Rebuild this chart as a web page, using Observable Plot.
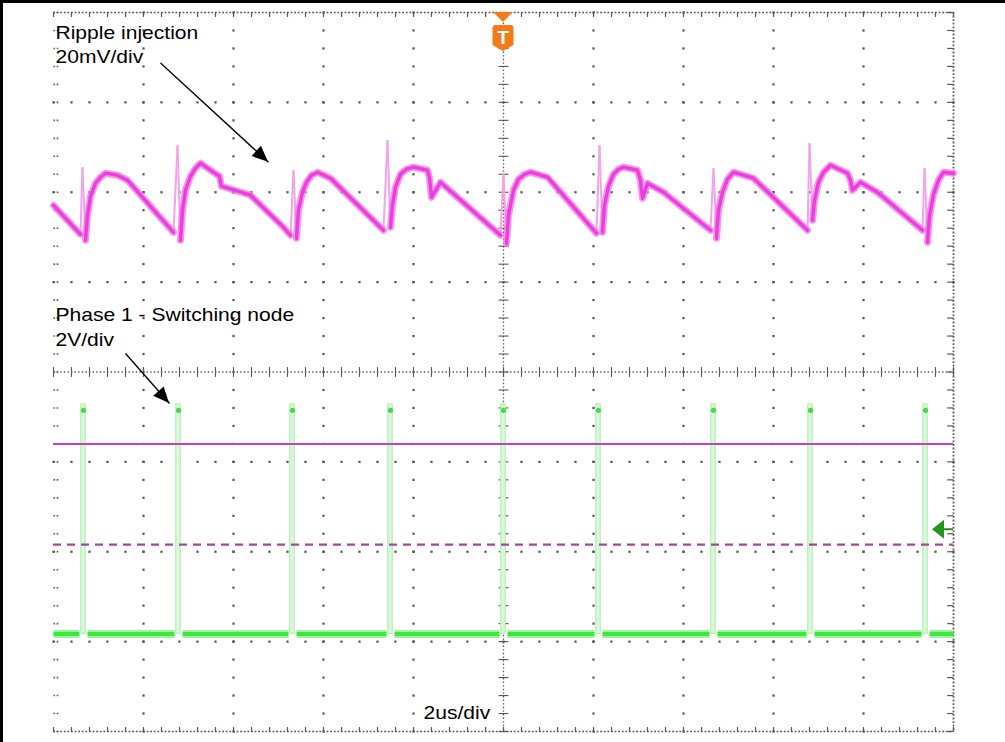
<!DOCTYPE html>
<html>
<head>
<meta charset="utf-8">
<script src="https://cdn.jsdelivr.net/npm/d3@7"></script>
<script src="https://cdn.jsdelivr.net/npm/@observablehq/plot@0.6"></script>
<style>
  html, body { margin: 0; padding: 0; background: #fff; }
  #scope { position: relative; width: 1005px; height: 742px; }
  #scope::before { content: ""; position: absolute; left: 0; top: 0; right: 0; bottom: 0;
    border-top: 3px solid #000; border-left: 3px solid #000; pointer-events: none; z-index: 2; }
  #scope svg { display: block; }
</style>
</head>
<body>
<div id="scope"></div>
<script>
// Horizontal axis: time in µs (2 µs/div, trigger at 0). Vertical axis: screen divisions (8 div tall).

// Ripple injection trace (20 mV/div), sample times and levels
const rippleTime = [
  -10.0, -9.40,
  -9.356, -9.289, -9.244, -9.178, -9.067, -8.956, -8.844, -8.578, -8.356, -7.333,
  -7.244, -7.178, -7.133, -7.067, -6.956, -6.844, -6.733, -6.444, -6.311, -6.267, -5.622, -4.889, -4.733,
  -4.667, -4.60, -4.556, -4.467, -4.378, -4.267, -4.133, -3.844, -2.667,
  -2.578, -2.511, -2.467, -2.40, -2.289, -2.156, -2.0, -1.689, -1.644, -1.60, -1.40, -0.067,
  0.0, 0.067, 0.111, 0.222, 0.333, 0.467, 0.60, 0.978, 2.067,
  2.133, 2.20, 2.244, 2.333, 2.444, 2.556, 2.667, 2.978, 3.044, 3.089, 3.20, 3.556, 4.60,
  4.667, 4.733, 4.778, 4.867, 4.978, 5.111, 5.556, 6.756,
  6.80, 6.867, 6.911, 7.0, 7.111, 7.267, 7.644, 7.711, 7.756, 7.933, 8.311, 9.311,
  9.356, 9.422, 9.467, 9.556, 9.667, 9.778, 10.0
];
const rippleLevel = [
  1.855, 1.532,
  2.279, 1.465, 1.744, 1.955, 2.100, 2.167, 2.212, 2.190, 2.134, 1.554,
  2.523, 1.465, 1.800, 2.022, 2.178, 2.267, 2.323, 2.222, 2.178, 2.067, 1.967, 1.610, 1.521,
  2.245, 1.488, 1.800, 2.000, 2.111, 2.190, 2.222, 2.156, 1.577,
  2.579, 1.610, 1.855, 2.056, 2.201, 2.256, 2.279, 2.245, 2.156, 1.944, 2.111, 1.521,
  2.212, 1.432, 1.744, 2.022, 2.145, 2.200, 2.223, 2.167, 1.543,
  2.523, 1.554, 1.855, 2.067, 2.201, 2.256, 2.279, 2.245, 2.134, 1.933, 2.100, 2.000, 1.577,
  2.267, 1.488, 1.800, 2.000, 2.145, 2.223, 2.156, 1.577,
  2.546, 1.688, 1.911, 2.111, 2.223, 2.301, 2.212, 2.134, 2.022, 2.111, 2.000, 1.577,
  2.267, 1.443, 1.733, 1.978, 2.134, 2.223, 2.212
];

// Phase 1 switching node (2 V/div): pulse times and the two levels
const pulseTimes = [-9.333, -7.222, -4.689, -2.511, 0.0, 2.111, 4.667, 6.822, 9.378];
const switchLow = -2.914;
const switchHigh = -0.36;

// Cursor levels, channel reference marker, trigger position
const cursorSolid = -0.80;
const cursorDashed = -1.92;
const channelRef = -1.755;
const triggerTime = 0;

// Annotation texts and their anchors
const labelText = ["Ripple injection", "20mV/div", "Phase 1 - Switching node", "2V/div", "2us/div"];
const labelTime = [-9.956, -9.956, -9.956, -9.956, -1.778];
const labelLevel = [3.769, 3.502, 0.627, 0.359, -3.796];

// Pointer arrows: start and tip
const arrowFrom = [[-7.622, 3.437], [-8.40, 0.206]];
const arrowTo = [[-5.222, 2.334], [-7.422, -0.351]];

// ---- derived tables ----
const labels = labelText.map((text, i) => ({text, t: labelTime[i], v: labelLevel[i]}));
const arrows = arrowFrom.map((a, i) => ({x1: a[0], y1: a[1], x2: arrowTo[i][0], y2: arrowTo[i][1]}));

// The ripple trace is split at its fast edges: slow stretches are drawn as a wide
// noisy band, the fast spikes as a faint thin line (the scope paints them lightly).
const FAST = 9; // div per µs
const rippleFast = [];
const groups = [[]];
for (let i = 0; i < rippleTime.length; i++) {
  groups[groups.length - 1].push({t: rippleTime[i], v: rippleLevel[i]});
  if (i < rippleTime.length - 1) {
    const rate = Math.abs(rippleLevel[i + 1] - rippleLevel[i]) / (rippleTime[i + 1] - rippleTime[i]);
    if (rate > FAST) {
      rippleFast.push({x1: rippleTime[i], y1: rippleLevel[i], x2: rippleTime[i + 1], y2: rippleLevel[i + 1]});
      groups.push([]);
    }
  }
}
const rippleSlow = groups
  .filter(g => g.length > 1)
  .flatMap((g, k) => g.map(p => ({...p, g: k})));

// low level drawn as segments interrupted by each pulse
const edges = [-10, ...pulseTimes, 10];
const baseSegs = [];
for (let i = 0; i < edges.length - 1; i++) {
  const a = i === 0 ? edges[i] : edges[i] + 0.09;
  const b = i === edges.length - 2 ? edges[i + 1] : edges[i + 1] - 0.09;
  if (b > a) baseSegs.push({seg: i, t: a, v: switchLow}, {seg: i, t: b, v: switchLow});
}

// graticule
const minorX = d3.range(-10, 10.0001, 0.4);
const minorY = d3.range(-4, 4.0001, 0.2);
const majorX = [-8, -6, -4, -2, 2, 4, 6, 8];
const majorY = [-3, -2, -1, 1, 2, 3];
const gridDots = [
  ...majorX.flatMap(x => minorY.map(y => ({x, y}))),
  ...majorY.flatMap(y => minorX.map(x => ({x, y})))
];
const gridColor = "#555";

const plot = Plot.plot({
  width: 1005,
  height: 742,
  marginLeft: 53,
  marginRight: 52,
  marginTop: 12,
  marginBottom: 11,
  x: {domain: [-10, 10], axis: null},
  y: {domain: [-4, 4], axis: null},
  style: {background: "transparent", overflow: "visible"},
  marks: [
    // graticule dots and center crosshair
    Plot.dot(gridDots, {x: "x", y: "y", r: 1.25, symbol: "square", fill: gridColor, stroke: "none"}),
    Plot.ruleX([0], {stroke: gridColor, strokeWidth: 1.3, strokeDasharray: "1.4,2.2"}),
    Plot.ruleY([0], {stroke: gridColor, strokeWidth: 1.3, strokeDasharray: "1.4,2.2"}),
    Plot.link(minorY, {x1: -0.11, x2: 0.11, y1: d => d, y2: d => d, stroke: gridColor, strokeWidth: 1.1}),
    Plot.link(minorX, {x1: d => d, x2: d => d, y1: -0.055, y2: 0.055, stroke: gridColor, strokeWidth: 1.1}),
    // frame edges
    Plot.ruleY([4, -4], {stroke: gridColor, strokeWidth: 1.7, strokeDasharray: "1.8,1.8"}),
    Plot.ruleX([10], {stroke: gridColor, strokeWidth: 1.7, strokeDasharray: "1.8,1.8"}),
    Plot.link(minorX, {x1: d => d, x2: d => d, y1: 4, y2: 3.95, stroke: gridColor, strokeWidth: 1.2}),
    Plot.link(minorX, {x1: d => d, x2: d => d, y1: -4, y2: -3.95, stroke: gridColor, strokeWidth: 1.2}),
    Plot.link(minorY, {x1: 9.86, x2: 10, y1: d => d, y2: d => d, stroke: gridColor, strokeWidth: 1.2}),
    Plot.link(minorY, {x1: -10, x2: -9.86, y1: d => d, y2: d => d, stroke: gridColor, strokeWidth: 1.6, strokeDasharray: "1.6,1.6"}),

    // switching node pulses and low level
    Plot.rect(pulseTimes, {x1: d => d - 0.05, x2: d => d + 0.05, y1: switchLow, y2: switchHigh,
      fill: "#d9f8d9", stroke: "#aeeeae", strokeWidth: 1}),
    Plot.line(baseSegs, {x: "t", y: "v", z: "seg", stroke: "#86f086", strokeWidth: 8, strokeOpacity: 0.8, strokeLinecap: "butt"}),
    Plot.line(baseSegs, {x: "t", y: "v", z: "seg", stroke: "#3ce83c", strokeWidth: 4, strokeLinecap: "butt"}),
    Plot.dot(pulseTimes, {x: d => d, y: switchHigh, dy: 6, r: 2.6, fill: "#43dc43", stroke: "none"}),

    // cursors
    Plot.ruleY([cursorSolid], {stroke: "#c443b4", strokeWidth: 2}),
    Plot.ruleY([cursorDashed], {stroke: "#a4489a", strokeWidth: 2.2, strokeDasharray: "8,6"}),

    // ripple injection trace
    Plot.link(rippleFast, {x1: "x1", y1: "y1", x2: "x2", y2: "y2", stroke: "#f3a2ec", strokeWidth: 2}),
    Plot.line(rippleSlow, {x: "t", y: "v", z: "g", stroke: "#f27ae9", strokeWidth: 7, strokeOpacity: 0.8}),
    Plot.line(rippleSlow, {x: "t", y: "v", z: "g", stroke: "#ec3edc", strokeWidth: 3.4}),

    // annotations
    Plot.link(arrows, {x1: "x1", y1: "y1", x2: "x2", y2: "y2", stroke: "#000", strokeWidth: 1.3}),
    Plot.text(labels, {x: "t", y: "v", text: "text", textAnchor: "start", fontSize: 18,
      fontFamily: "'Liberation Sans', Arial, sans-serif", fill: "#000"})
  ]
});

document.getElementById("scope").appendChild(plot);

// Widen the annotation lettering horizontally
d3.select(plot).selectAll('g[aria-label="text"] text').each(function () {
  const tr = this.getAttribute("transform");
  if (tr) {
    this.setAttribute("transform", tr + " scale(1.17,1)");
  } else {
    const x = +this.getAttribute("x") || 0, y = +this.getAttribute("y") || 0;
    this.removeAttribute("x"); this.removeAttribute("y");
    this.setAttribute("transform", `translate(${x},${y}) scale(1.17,1)`);
  }
});

// Filled arrowheads, trigger flag and channel marker placed with the plot's scales
const sx = plot.scale("x"), sy = plot.scale("y");
const overlay = d3.select(plot).append("g");

for (const a of arrows) {
  const x1 = sx.apply(a.x1), y1 = sy.apply(a.y1), x2 = sx.apply(a.x2), y2 = sy.apply(a.y2);
  const ang = Math.atan2(y2 - y1, x2 - x1);
  const len = 16, half = 7;
  const bx = x2 - len * Math.cos(ang), by = y2 - len * Math.sin(ang);
  const px = -Math.sin(ang) * half, py = Math.cos(ang) * half;
  overlay.append("path")
    .attr("d", `M${x2},${y2}L${bx + px},${by + py}L${bx - px},${by - py}Z`)
    .attr("fill", "#000");
}

// trigger position flag
const tx = sx.apply(triggerTime), frameTop = sy.apply(4);
const orange = "#f27c1c";
overlay.append("path")
  .attr("d", `M${tx - 10},${frameTop}L${tx + 10},${frameTop}L${tx},${frameTop + 10}Z`)
  .attr("fill", orange);
overlay.append("path")
  .attr("d", `M${tx - 10.5},${frameTop + 16}Q${tx - 10.5},${frameTop + 13} ${tx - 7.5},${frameTop + 13}L${tx + 7.5},${frameTop + 13}Q${tx + 10.5},${frameTop + 13} ${tx + 10.5},${frameTop + 16}L${tx + 10.5},${frameTop + 33}L${tx},${frameTop + 39}L${tx - 10.5},${frameTop + 33}Z`)
  .attr("fill", orange);
overlay.append("text")
  .attr("x", tx).attr("y", frameTop + 32)
  .attr("text-anchor", "middle")
  .attr("font-family", "'Liberation Sans', Arial, sans-serif")
  .attr("font-weight", "bold")
  .attr("font-size", 19)
  .attr("fill", "#fff")
  .text("T");

// channel reference marker on the right edge
const rx = sx.apply(10), ry = sy.apply(channelRef);
const dkGreen = "#1f961f";
overlay.append("path")
  .attr("d", `M${rx - 21},${ry}L${rx - 9},${ry - 9.5}L${rx - 9},${ry + 9.5}Z`)
  .attr("fill", dkGreen);
overlay.append("line")
  .attr("x1", rx - 10).attr("x2", rx).attr("y1", ry).attr("y2", ry)
  .attr("stroke", dkGreen).attr("stroke-width", 2);
</script>
</body>
</html>
